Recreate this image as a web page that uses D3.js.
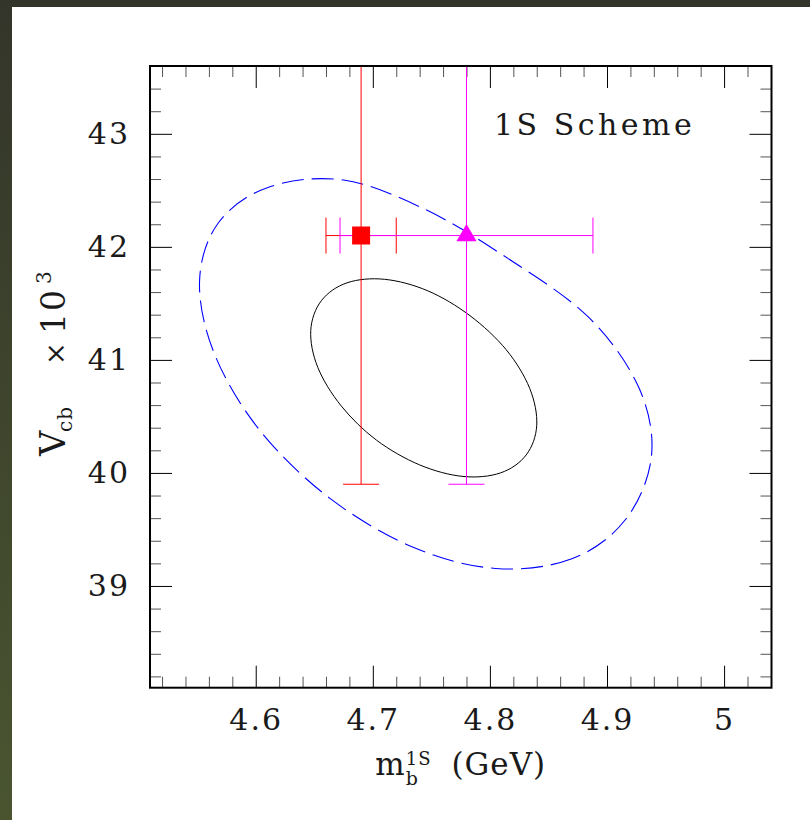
<!DOCTYPE html>
<html><head><meta charset="utf-8">
<script src="https://cdn.jsdelivr.net/npm/d3@7"></script>
<style>body{margin:0;background:#fff}svg{display:block}</style>
</head><body><svg id="c" width="810" height="820"></svg>
<script>
// ---------------- data ----------------
const xDomain = [4.5097, 5.0405];
const yDomain = [38.1, 43.6];
const xMajorTicks = [4.6, 4.7, 4.8, 4.9, 5.0];
const xTickLabels = ["4.6", "4.7", "4.8", "4.9", "5"];
const yMajorTicks = [39, 40, 41, 42, 43];
const yTickLabels = ["39", "40", "41", "42", "43"];

// measurement points (m_b^1S, Vcb x 10^3) with errors
const pointNames = ["square", "triangle"];
const pointM = [4.69, 4.78];
const pointV = [42.1, 42.1];
const pointMErr = [0.030, 0.108];
const pointVErr = [2.2, 2.2];
const pointColors = ["#ff0000", "#ff00ff"];

const innerM = [4.831, 4.809, 4.777, 4.740, 4.703, 4.673, 4.653, 4.647, 4.656, 4.678, 4.710, 4.747, 4.783, 4.814, 4.834, 4.840];
const innerV = [40.159, 40.000, 39.969, 40.071, 40.291, 40.593, 40.934, 41.260, 41.523, 41.682, 41.713, 41.611, 41.391, 41.089, 40.748, 40.422];
const outerM = [4.916, 4.870, 4.805, 4.735, 4.664, 4.604, 4.565, 4.552, 4.568, 4.611, 4.675, 4.745, 4.815, 4.884, 4.927, 4.938];
const outerV = [39.590, 39.240, 39.155, 39.340, 39.770, 40.370, 41.046, 41.691, 42.211, 42.528, 42.591, 42.33, 41.90, 41.380, 40.760, 40.150];

const schemeLabel = "1S Scheme";

// ---------------- drawing ----------------
const W = 810, H = 820;
const L = 150, R = 771.5, T = 66, B = 687.7;
const FONT = "DejaVu Serif";
const INK = "#1a1a1a";
const svg = d3.select("#c");
const defs = svg.append("defs");
const grad = defs.append("linearGradient").attr("id", "lg").attr("x1", 0).attr("y1", 0).attr("x2", 0).attr("y2", 1);
grad.append("stop").attr("offset", "0%").attr("stop-color", "#33352a");
grad.append("stop").attr("offset", "100%").attr("stop-color", "#4a5530");
defs.append("clipPath").attr("id", "clip").append("rect").attr("x", L).attr("y", T).attr("width", R - L).attr("height", B - T);

svg.append("rect").attr("width", W).attr("height", H).attr("fill", "#fff");
svg.append("rect").attr("x", 0).attr("y", 0).attr("width", 12).attr("height", H).attr("fill", "url(#lg)");
svg.append("rect").attr("x", 0).attr("y", 0).attr("width", W).attr("height", 7).attr("fill", "#33352a");

const x = d3.scaleLinear().domain(xDomain).range([L, R]);
const y = d3.scaleLinear().domain(yDomain).range([B, T]);

const xMinor = d3.range(226, 252).map(i => i / 50).filter(v => !xMajorTicks.some(t => Math.abs(t - v) < 1e-6));
const yMinor = d3.range(191, 218).map(i => i / 5).filter(v => !yMajorTicks.some(t => Math.abs(t - v) < 1e-6));

function clean(g, color) {
  g.select(".domain").remove();
  g.selectAll(".tick line").attr("stroke", color);
  g.attr("font-family", FONT).attr("font-size", 30);
  g.selectAll("text").attr("fill", INK).attr("letter-spacing", "2px");
}
// minor ticks
svg.append("g").attr("transform", `translate(0,${B})`).call(d3.axisBottom(x).tickValues(xMinor).tickSize(-11).tickFormat("")).call(g => clean(g, "#555"));
svg.append("g").attr("transform", `translate(0,${T})`).call(d3.axisTop(x).tickValues(xMinor).tickSize(-11).tickFormat("")).call(g => clean(g, "#555"));
svg.append("g").attr("transform", `translate(${L},0)`).call(d3.axisLeft(y).tickValues(yMinor).tickSize(-11).tickFormat("")).call(g => clean(g, "#555"));
svg.append("g").attr("transform", `translate(${R},0)`).call(d3.axisRight(y).tickValues(yMinor).tickSize(-11).tickFormat("")).call(g => clean(g, "#555"));
// major ticks
svg.append("g").attr("transform", `translate(0,${B})`).call(d3.axisBottom(x).tickValues(xMajorTicks).tickSize(-22).tickPadding(21).tickFormat((d, i) => xTickLabels[i])).call(g => clean(g, "#000"));
svg.append("g").attr("transform", `translate(0,${T})`).call(d3.axisTop(x).tickValues(xMajorTicks).tickSize(-22).tickFormat("")).call(g => clean(g, "#000"));
svg.append("g").attr("transform", `translate(${L},0)`).call(d3.axisLeft(y).tickValues(yMajorTicks).tickSize(-22).tickPadding(20).tickFormat((d, i) => yTickLabels[i])).call(g => clean(g, "#000"));
svg.append("g").attr("transform", `translate(${R},0)`).call(d3.axisRight(y).tickValues(yMajorTicks).tickSize(-22).tickFormat("")).call(g => clean(g, "#000"));

// contours
const plot = svg.append("g").attr("clip-path", "url(#clip)");
const line = d3.line().x(d => x(d[0])).y(d => y(d[1])).curve(d3.curveCardinalClosed.tension(0));
plot.append("path").datum(d3.zip(outerM, outerV)).attr("d", line)
  .attr("fill", "none").attr("stroke", "#0000ff").attr("stroke-width", 1.1).attr("stroke-dasharray", "22 8");
plot.append("path").datum(d3.zip(innerM, innerV)).attr("d", line)
  .attr("fill", "none").attr("stroke", "#000").attr("stroke-width", 1);

// error bars
const cap = 18;
pointNames.forEach((n, i) => {
  const g = plot.append("g").attr("stroke", pointColors[i]).attr("stroke-width", 1).attr("fill", "none");
  const cx = x(pointM[i]), cy = y(pointV[i]);
  const x0 = x(pointM[i] - pointMErr[i]), x1 = x(pointM[i] + pointMErr[i]);
  const y0 = y(pointV[i] - pointVErr[i]), y1 = y(pointV[i] + pointVErr[i]);
  g.append("line").attr("x1", x0).attr("x2", x1).attr("y1", cy).attr("y2", cy);
  g.append("line").attr("x1", cx).attr("x2", cx).attr("y1", y0).attr("y2", y1);
  g.append("line").attr("x1", x0).attr("x2", x0).attr("y1", cy - cap).attr("y2", cy + cap);
  g.append("line").attr("x1", x1).attr("x2", x1).attr("y1", cy - cap).attr("y2", cy + cap);
  g.append("line").attr("x1", cx - cap).attr("x2", cx + cap).attr("y1", y0).attr("y2", y0);
  g.append("line").attr("x1", cx - cap).attr("x2", cx + cap).attr("y1", y1).attr("y2", y1);
});
// markers
const symTypes = [d3.symbolSquare, d3.symbolTriangle];
const symSizes = [324, 175];
pointNames.forEach((n, i) => {
  plot.append("path").attr("d", d3.symbol().type(symTypes[i]).size(symSizes[i])())
    .attr("transform", `translate(${x(pointM[i])},${y(pointV[i])})`).attr("fill", pointColors[i]);
});

// frame
svg.append("rect").attr("x", L).attr("y", T).attr("width", R - L).attr("height", B - T)
  .attr("fill", "none").attr("stroke", "#000").attr("stroke-width", 2);

// scheme label
svg.append("text").attr("x", 494).attr("y", 135).attr("font-family", FONT).attr("font-size", 30)
  .attr("letter-spacing", "3.5px").attr("fill", INK).text(schemeLabel);

// x title
const xt = svg.append("g").attr("font-family", FONT).attr("fill", INK);
const mT = xt.append("text").attr("x", 0).attr("y", 0).attr("font-size", 31).text("m");
const mw = mT.node().getComputedTextLength();
const subT = xt.append("text").attr("x", mw + 1).attr("y", 10).attr("font-size", 19).text("b");
const supT = xt.append("text").attr("x", mw + 1).attr("y", -10).attr("font-size", 18).attr("letter-spacing", "1px").text("1S");
const sw = Math.max(subT.node().getComputedTextLength(), supT.node().getComputedTextLength());
const restT = xt.append("text").attr("x", mw + 1 + sw + 20).attr("y", 0).attr("font-size", 31).attr("letter-spacing", "1px").text("(GeV)");
const totalW = mw + 1 + sw + 20 + restT.node().getComputedTextLength();
xt.attr("transform", `translate(${(L + R) / 2 - totalW / 2},775)`);

// y title (rotated; local x runs upward on screen)
const yt = svg.append("g").attr("font-family", FONT).attr("fill", INK).attr("transform", "translate(65,0) rotate(-90)");
yt.append("text").attr("x", -456).attr("y", 0).attr("font-size", 35).text("V");
yt.append("text").attr("x", -432).attr("y", 7).attr("font-size", 20).attr("letter-spacing", "1px").text("cb");
yt.append("text").attr("x", -365).attr("y", 0).attr("font-size", 27).text("×");
yt.append("text").attr("x", -334).attr("y", 0).attr("font-size", 33).attr("letter-spacing", "2px").text("10");
yt.append("text").attr("x", -284).attr("y", -14).attr("font-size", 20).text("3");
</script></body></html>
